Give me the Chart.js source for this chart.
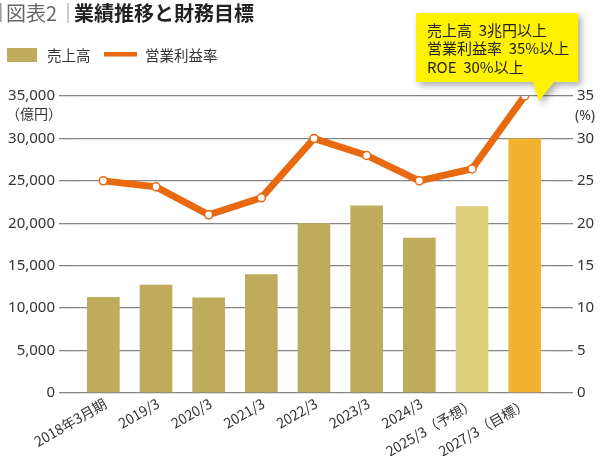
<!DOCTYPE html>
<html lang="ja">
<head>
<meta charset="UTF-8">
<title>業績推移と財務目標</title>
<script src="https://cdn.jsdelivr.net/npm/chart.js"></script>
<style>
  html, body { margin: 0; padding: 0; background: #fff; }
  #wrap { width: 600px; height: 456px; position: relative; }
</style>
</head>
<body>
<div id="wrap"><canvas id="chart" width="600" height="456"></canvas></div>
<script>
// data
const categories = ['2018年3月期', '2019/3', '2020/3', '2021/3', '2022/3', '2023/3', '2024/3', '2025/3（予想）', '2027/3（目標）'];
const sales = [11300, 12750, 11250, 14000, 20000, 22100, 18300, 22000, 30000];   // 億円
const margin = [25, 24.3, 21, 23, 30, 28, 25, 26.4, 35];                          // %
const salesTicks = [0, 5000, 10000, 15000, 20000, 25000, 30000, 35000];
const marginTicks = [0, 5, 10, 15, 20, 25, 30, 35];
const calloutLines = ['売上高  3兆円以上', '営業利益率  35%以上', 'ROE  30%以上'];

const OLIVE = '#bfab5c';
const barColors = categories.map((c, i) => i === 7 ? '#ddd07a' : i === 8 ? '#f3b32e' : OLIVE);
const ORANGE = '#e8690f';
const GRID = '#858585';
const FONT = "'Noto Sans', 'Noto Sans CJK JP', sans-serif";
const JP = "'Noto Sans CJK JP', 'Noto Sans', sans-serif";

// title, legend, units and the yellow callout
const decor = {
  id: 'decor',
  afterDatasetsDraw(chart) {
    const ctx = chart.ctx;
    ctx.save();
    ctx.textBaseline = 'middle';

    // title
    ctx.fillStyle = '#9a9a9a';
    ctx.fillRect(0, 3, 1.5, 19);
    ctx.fillStyle = '#666';
    ctx.font = '20px ' + JP;
    ctx.fillText('図表2', 6, 13);
    ctx.fillStyle = '#9a9a9a';
    ctx.fillRect(67.5, 3, 1, 20);
    ctx.fillStyle = '#222';
    ctx.font = 'bold 20px ' + JP;
    ctx.fillText('業績推移と財務目標', 74, 13);

    // legend
    ctx.fillStyle = OLIVE;
    ctx.fillRect(7, 48, 30, 14);
    ctx.fillStyle = ORANGE;
    ctx.fillRect(104, 52, 33, 4.5);
    ctx.fillStyle = '#333';
    ctx.font = '14.5px ' + JP;
    ctx.fillText('売上高', 47, 55);
    ctx.fillText('営業利益率', 145, 55);

    // units
    ctx.font = '14px ' + JP;
    ctx.fillText('（億円）', 6, 114);
    ctx.font = '14px ' + FONT;
    ctx.fillText('(%)', 575, 116);

    // callout
    ctx.shadowColor = 'rgba(0,0,0,0.35)';
    ctx.shadowBlur = 7;
    ctx.shadowOffsetX = 3;
    ctx.shadowOffsetY = 3;
    ctx.fillStyle = '#fff200';
    ctx.beginPath();
    ctx.moveTo(416, 13);
    ctx.lineTo(578, 13);
    ctx.lineTo(578, 82);
    ctx.lineTo(554, 82);
    ctx.lineTo(539, 101);
    ctx.lineTo(533, 82);
    ctx.lineTo(416, 82);
    ctx.closePath();
    ctx.fill();
    ctx.shadowColor = 'transparent';
    ctx.fillStyle = '#222';
    ctx.font = '15px ' + JP;
    calloutLines.forEach((t, i) => ctx.fillText(t, 427, 30 + i * 18.5));
    ctx.restore();
  }
};

new Chart(document.getElementById('chart'), {
  data: {
    labels: categories,
    datasets: [
      {
        type: 'line',
        label: '営業利益率',
        data: margin,
        yAxisID: 'y1',
        borderColor: ORANGE,
        borderWidth: 7,
        pointRadius: 4,
        pointBorderWidth: 1.5,
        pointBackgroundColor: '#fff',
        pointBorderColor: ORANGE,
        tension: 0,
        order: 0
      },
      {
        type: 'bar',
        label: '売上高',
        data: sales,
        yAxisID: 'y',
        backgroundColor: barColors,
        categoryPercentage: 1,
        barPercentage: 0.62,
        order: 1
      }
    ]
  },
  options: {
    responsive: false,
    animation: false,
    layout: { padding: { top: 96, left: 0, right: 0, bottom: 0 } },
    plugins: { legend: { display: false }, tooltip: { enabled: false } },
    scales: {
      x: {
        grid: { display: false },
        border: { display: false },
        ticks: { minRotation: 30, maxRotation: 30, padding: -6, labelOffset: 2, color: '#333', font: { family: JP, size: 14 } },
        afterFit(s) { s.height = 63; }
      },
      y: {
        position: 'left',
        min: 0, max: 35000,
        afterBuildTicks(s) { s.ticks = salesTicks.map(v => ({ value: v })); },
        ticks: { padding: 4, color: '#333', font: { family: FONT, size: 15 }, callback: v => v.toLocaleString('en-US') },
        grid: { color: GRID, lineWidth: 1.3, tickLength: 18 },
        border: { display: false },
        afterFit(s) { s.width = 77; }
      },
      y1: {
        position: 'right',
        min: 0, max: 35,
        afterBuildTicks(s) { s.ticks = marginTicks.map(v => ({ value: v })); },
        ticks: { padding: 4, color: '#333', font: { family: FONT, size: 15 } },
        grid: { drawOnChartArea: false, color: GRID, lineWidth: 1.3, tickLength: 22 },
        border: { display: false },
        afterFit(s) { s.width = 49; }
      }
    }
  },
  plugins: [decor]
});
</script>
</body>
</html>
